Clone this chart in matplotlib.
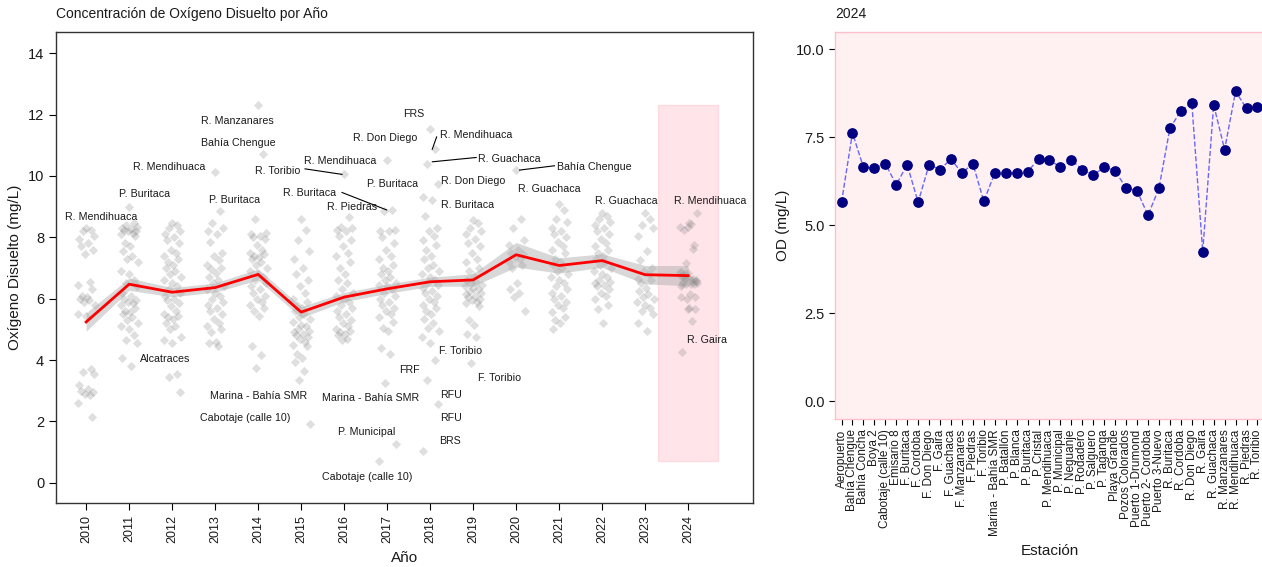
import matplotlib
matplotlib.use("Agg")
import matplotlib.pyplot as plt
import numpy as np

plt.rcParams['font.family'] = ['Liberation Sans', 'DejaVu Sans']

# --- datos por año ---
years = list(range(2010, 2025))
od_by_year = {
    2010: [8.3, 8.25, 8.2, 8.05, 7.95, 7.8, 7.7, 7.6, 7.45, 6.55, 6.45, 6.3, 6.1, 6.05, 6.0, 5.95,
           5.9, 5.8, 5.5, 5.45, 3.72, 3.6, 3.55, 3.2, 3.05, 3.0, 2.95, 2.9, 2.85, 2.6, 2.15],
    2011: [9.0, 8.45, 8.4, 8.35, 8.3, 8.28, 8.25, 8.2, 8.2, 8.15, 8.1, 8.05, 7.8, 7.7, 7.55, 7.4,
           7.3, 7.2, 6.9, 6.8, 6.6, 6.5, 6.4, 6.2, 6.1, 6.0, 5.95, 5.9, 5.85, 5.8, 5.7, 5.6, 5.55,
           5.5, 5.4, 5.3, 5.2, 5.1, 5.0, 4.8, 4.65, 4.55, 4.05, 3.8],
    2012: [8.45, 8.4, 8.3, 8.2, 8.1, 8.0, 7.9, 7.8, 7.6, 7.5, 7.4, 7.3, 7.2, 7.1, 7.0, 6.9, 6.8,
           6.7, 6.6, 6.5, 6.4, 6.3, 6.2, 6.1, 6.0, 5.95, 5.85, 5.75, 5.6, 5.5, 5.45, 5.4, 5.35,
           5.2, 5.1, 5.0, 4.75, 4.65, 4.55, 3.55, 3.45, 2.95],
    2013: [10.12, 8.85, 8.45, 8.3, 8.2, 8.1, 7.85, 7.5, 7.4, 7.25, 7.1, 7.0, 6.95, 6.85, 6.7, 6.6,
           6.5, 6.4, 6.3, 6.2, 6.1, 6.0, 5.9, 5.8, 5.7, 5.6, 5.5, 5.35, 5.2, 5.1, 5.0, 4.9, 4.6,
           4.55, 4.45],
    2014: [12.32, 10.72, 8.6, 8.15, 8.1, 8.05, 8.0, 7.95, 7.75, 7.6, 7.5, 7.45, 7.4, 7.35, 7.3,
           7.2, 7.1, 7.0, 6.9, 6.8, 6.7, 6.6, 6.5, 6.4, 6.3, 6.2, 6.1, 6.0, 5.9, 5.8, 5.7, 5.6,
           5.45, 4.45, 4.15, 3.75],
    2015: [8.6, 8.25, 7.9, 7.55, 7.3, 7.0, 6.8, 6.6, 6.4, 6.2, 6.0, 5.9, 5.8, 5.7, 5.6, 5.5, 5.4,
           5.35, 5.25, 5.15, 5.1, 5.0, 4.95, 4.9, 4.85, 4.8, 4.75, 4.7, 4.6, 4.5, 4.45, 4.2, 4.05,
           3.95, 3.65, 3.35, 1.9],
    2016: [10.06, 8.65, 8.35, 8.3, 8.25, 8.2, 8.05, 7.9, 7.7, 7.5, 7.4, 7.2, 7.0, 6.8, 6.6, 6.5,
           6.3, 6.2, 6.1, 6.0, 5.9, 5.8, 5.7, 5.6, 5.5, 5.4, 5.3, 5.2, 5.1, 5.0, 4.95, 4.9, 4.85,
           4.8, 4.7, 4.65],
    2017: [10.52, 8.9, 8.85, 8.25, 8.22, 8.2, 8.0, 7.8, 7.6, 7.4, 7.3, 7.1, 7.0, 6.9, 6.8, 6.7,
           6.6, 6.5, 6.45, 6.4, 6.3, 6.2, 6.1, 6.0, 5.9, 5.8, 5.7, 5.6, 5.5, 5.4, 5.25, 5.05, 4.95,
           4.4, 4.2, 3.25, 1.25, 0.72],
    2018: [11.52, 10.87, 10.4, 9.74, 9.3, 9.2, 8.7, 8.3, 8.2, 8.05, 7.9, 7.75, 7.6, 7.4, 7.3, 7.1,
           7.0, 6.9, 6.8, 6.7, 6.6, 6.5, 6.45, 6.35, 6.25, 6.2, 6.1, 6.0, 5.9, 5.8, 5.7, 5.6, 5.5,
           5.35, 5.2, 5.05, 4.95, 4.75, 4.55, 4.0, 3.35, 2.55, 1.03],
    2019: [8.55, 8.45, 8.3, 8.2, 8.1, 7.95, 7.8, 7.7, 7.5, 7.3, 7.2, 7.0, 6.9, 6.75, 6.6, 6.55,
           6.5, 6.45, 6.4, 6.35, 6.3, 6.25, 6.2, 6.15, 6.1, 6.05, 6.0, 5.95, 5.9, 5.85, 5.75, 5.3,
           5.15, 4.85, 4.75, 3.9],
    2020: [10.2, 8.6, 8.3, 7.9, 7.75, 7.6, 7.5, 7.45, 7.35, 7.3, 7.2, 7.1, 7.0, 6.5, 6.3, 6.2,
           6.05, 5.6],
    2021: [9.1, 8.9, 8.6, 8.5, 8.3, 8.2, 8.1, 8.0, 7.85, 7.7, 7.6, 7.5, 7.3, 7.2, 7.1, 7.0, 6.9,
           6.8, 6.7, 6.6, 6.5, 6.4, 6.3, 6.2, 6.1, 6.0, 5.9, 5.8, 5.7, 5.55, 5.4, 5.3, 5.2, 5.0],
    2022: [8.8, 8.7, 8.6, 8.5, 8.4, 8.3, 8.2, 8.1, 7.95, 7.8, 7.7, 7.6, 7.5, 7.4, 7.3, 7.2, 7.1,
           7.0, 6.9, 6.8, 6.7, 6.6, 6.55, 6.5, 6.45, 6.4, 6.3, 6.2, 6.1, 6.0, 5.8, 5.65, 5.2],
    2023: [8.8, 8.6, 8.4, 8.3, 8.05, 7.55, 7.25, 7.0, 6.9, 6.8, 6.65, 6.6, 6.5, 6.35, 6.25, 6.15,
           6.05, 6.0, 5.9, 5.8, 5.7, 5.6, 5.5, 5.2, 4.95],
}

# curva suavizada y banda de confianza
smooth_od = [5.24, 6.47, 6.21, 6.36, 6.79, 5.56, 6.05, 6.32, 6.55, 6.61, 7.43, 7.08, 7.24, 6.78, 6.75]
smooth_se = [0.3, 0.2, 0.15, 0.15, 0.18, 0.18, 0.15, 0.15, 0.15, 0.2, 0.4, 0.25, 0.22, 0.3, 0.33]

# estaciones 2024
stations = ["Aeropuerto", "Bahía Chengue", "Bahía Concha", "Boya 2", "Cabotaje (calle 10)",
            "Emisario 8", "F. Buritaca", "F. Cordoba", "F. Don Diego", "F. Gaira", "F. Guachaca",
            "F. Manzanares", "F. Piedras", "F. Toribio", "Marina - Bahía SMR", "P. Batallón",
            "P. Blanca", "P. Buritaca", "P. Cristal", "P. Mendihuaca", "P. Municipal",
            "P. Neguanje", "P. Rodadero", "P. Salguero", "P. Taganga", "Playa Grande",
            "Pozos Colorados", "Puerto 1-Drumond", "Puerto 2- Cordoba", "Puerto 3-Nuevo",
            "R. Buritaca", "R. Cordoba", "R. Don Diego", "R. Gaira", "R. Guachaca",
            "R. Manzanares", "R. Mendihuaca", "R. Piedras", "R. Toribio"]
od_2024 = [5.65, 7.62, 6.65, 6.62, 6.75, 6.15, 6.72, 5.65, 6.72, 6.58, 6.88, 6.48, 6.75, 5.68,
           6.48, 6.48, 6.48, 6.52, 6.88, 6.85, 6.65, 6.85, 6.58, 6.42, 6.65, 6.55, 6.05, 5.98,
           5.28, 6.05, 7.75, 8.25, 8.48, 4.25, 8.42, 7.15, 8.8, 8.32, 8.35]
od_by_year[2024] = od_2024

# etiquetas de estaciones extremas (texto, x, y)
labels = [
    ("R. Mendihuaca", 2010.35, 8.67), ("P. Buritaca", 2011.35, 9.41),
    ("R. Mendihuaca", 2011.93, 10.30), ("P. Buritaca", 2013.45, 9.22),
    ("R. Manzanares", 2013.52, 11.80), ("Bahía Chengue", 2013.55, 11.06),
    ("R. Toribio", 2014.45, 10.17), ("R. Mendihuaca", 2015.91, 10.47),
    ("R. Buritaca", 2015.20, 9.44), ("R. Piedras", 2016.18, 8.98),
    ("R. Don Diego", 2016.96, 11.22), ("P. Buritaca", 2017.13, 9.74),
    ("FRS", 2017.62, 12.01), ("R. Mendihuaca", 2019.07, 11.34),
    ("R. Guachaca", 2019.85, 10.55), ("Bahía Chengue", 2021.81, 10.30),
    ("R. Don Diego", 2018.99, 9.84), ("R. Guachaca", 2020.76, 9.57),
    ("R. Buritaca", 2018.87, 9.06), ("R. Guachaca", 2022.56, 9.19),
    ("R. Mendihuaca", 2024.51, 9.19), ("Alcatraces", 2011.84, 4.02),
    ("Marina - Bahía SMR", 2014.01, 2.83), ("Cabotaje (calle 10)", 2013.71, 2.11),
    ("Marina - Bahía SMR", 2016.62, 2.76), ("P. Municipal", 2016.53, 1.64),
    ("Cabotaje (calle 10)", 2016.54, 0.18), ("FRF", 2017.51, 3.69),
    ("F. Toribio", 2018.70, 4.29), ("F. Toribio", 2019.61, 3.41),
    ("RFU", 2018.49, 2.87), ("RFU", 2018.49, 2.11), ("BRS", 2018.46, 1.37),
    ("R. Gaira", 2024.43, 4.64),
]
# segmentos de las etiquetas desplazadas
segments = [
    ((2015.09, 10.23), (2015.95, 10.05)),
    ((2015.95, 9.46), (2016.99, 8.89)),
    ((2018.15, 11.27), (2018.05, 10.87)),
    ((2018.05, 10.46), (2019.07, 10.60)),
    ((2020.08, 10.19), (2020.89, 10.33)),
]

fig = plt.figure(figsize=(12.62, 5.67), dpi=100)
ax1 = fig.add_axes([0.0444, 0.1129, 0.552, 0.8312])
ax2 = fig.add_axes([0.6616, 0.261, 0.3400, 0.6831])

txt = '#1a1a1a'

# --- panel izquierdo ---
all_vals = [v for y in years for v in od_by_year[y]]
ymin, ymax = min(all_vals), max(all_vals)
ax1.fill_between([2023.3, 2024.7], ymin, ymax, facecolor='#ffc0cb', alpha=0.4,
                 edgecolor='#ffb6c1', linewidth=1, zorder=1)

pattern = np.array([0, 5, -3, 8, -7, 2, -5, 7, -1, 4, -8, 6, -4, 1, -6, 3, -2, 9, -9])
for yr in years:
    vals = np.array(od_by_year[yr])
    jit = pattern[np.arange(len(vals)) % len(pattern)] / 9 * 0.2
    ax1.scatter(yr + jit, vals, marker='D', s=22, color='#808080', alpha=0.25,
                linewidths=0, zorder=2)

sm = np.array(smooth_od)
se = np.array(smooth_se)
ax1.fill_between(years, sm - se, sm + se, color='#a9a9a9', alpha=0.45, linewidth=0, zorder=3)
ax1.plot(years, sm, color='red', linewidth=2, zorder=4)

for t, x, y in labels:
    ax1.text(x, y, t, fontsize=7.7, ha='center', va='center', color=txt, zorder=5)
for (x0, y0), (x1, y1) in segments:
    ax1.plot([x0, x1], [y0, y1], color='black', linewidth=0.8, zorder=5)

ax1.set_xlim(2009.3, 2025.5)
ax1.set_ylim(-0.66, 14.7)
ax1.set_xticks(years)
ax1.set_xticklabels([str(y) for y in years], rotation=90, fontsize=9, color=txt)
ax1.set_yticks([0, 2, 4, 6, 8, 10, 12, 14])
ax1.tick_params(axis='y', labelsize=10.5, labelcolor=txt, length=5)
ax1.tick_params(axis='x', length=5)
for s in ax1.spines.values():
    s.set_color('#333333')
    s.set_linewidth(1)
ax1.set_xlabel('Año', fontsize=11, color=txt, labelpad=6)
ax1.set_ylabel('Oxígeno Disuelto (mg/L)', fontsize=11, color=txt)
ax1.set_title('Concentración de Oxígeno Disuelto por Año', fontsize=10, color=txt,
              loc='left', pad=10)

# --- panel derecho ---
xs = np.arange(len(stations))
ax2.set_facecolor('#fff0f2')
ax2.plot(xs, od_2024, linestyle='--', color='#4444ff', linewidth=1, alpha=0.8, zorder=2)
ax2.scatter(xs, od_2024, s=45, color='#000080', zorder=3)
ax2.set_xlim(-0.6, len(stations) - 0.4)
ax2.set_ylim(-0.51, 10.5)
ax2.set_yticks([0, 2.5, 5, 7.5, 10])
ax2.set_yticklabels(['0.0', '2.5', '5.0', '7.5', '10.0'])
ax2.set_xticks(xs)
ax2.set_xticklabels(stations, rotation=90, fontsize=8.5, color=txt)
ax2.tick_params(axis='y', labelsize=10.5, labelcolor=txt, length=4)
ax2.tick_params(axis='x', length=4)
for s in ax2.spines.values():
    s.set_color('#ffc0cb')
    s.set_linewidth(1)
ax2.set_xlabel('Estación', fontsize=11, color=txt, labelpad=6)
ax2.set_ylabel('OD (mg/L)', fontsize=11, color=txt)
ax2.set_title('2024', fontsize=10, color=txt, loc='left', pad=10)

fig.savefig('out.png', dpi=100)
